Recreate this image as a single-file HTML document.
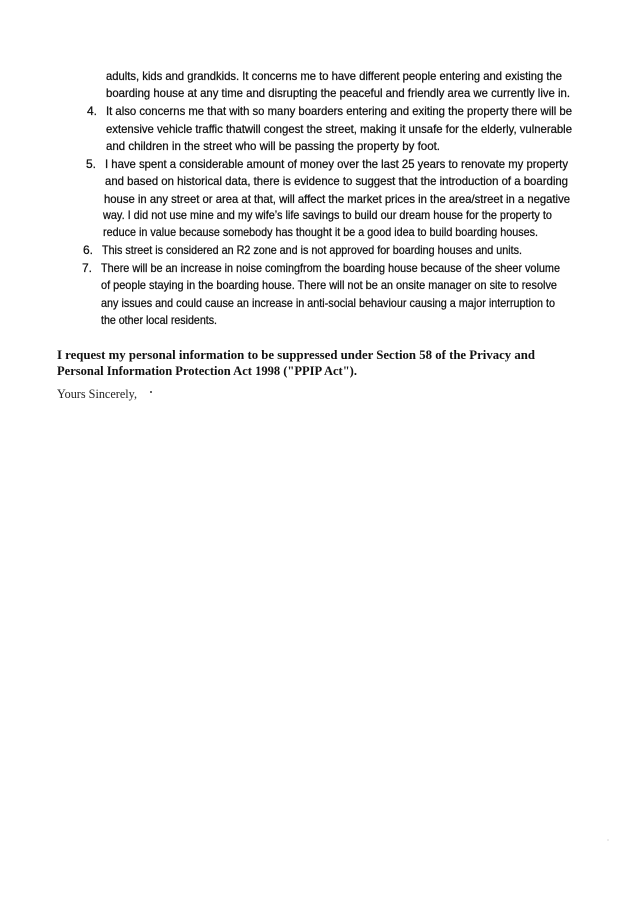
<!DOCTYPE html>
<html><head><meta charset="utf-8"><style>
html,body{margin:0;padding:0;background:#fff;width:637px;height:923px;overflow:hidden}
svg{display:block}
.s{font-family:"Liberation Sans",sans-serif;font-size:12px;fill:#111;stroke:#111;stroke-width:0.25}
.b{font-family:"Liberation Serif",serif;font-size:13px;font-weight:bold;fill:#111}
.r{font-family:"Liberation Serif",serif;font-size:13px;fill:#222}
</style></head><body>
<svg width="637" height="923" viewBox="0 0 637 923" xmlns="http://www.w3.org/2000/svg">
<rect width="637" height="923" fill="#fff"/>
<g class="s">
<text x="106" y="80" textLength="456" lengthAdjust="spacingAndGlyphs">adults, kids and grandkids. It concerns me to have different people entering and existing the</text>
<text x="106" y="97" textLength="464" lengthAdjust="spacingAndGlyphs">boarding house at any time and disrupting the peaceful and friendly area we currently live in.</text>
<text x="87" y="115">4.</text>
<text x="106" y="115" textLength="466" lengthAdjust="spacingAndGlyphs">It also concerns me that with so many boarders entering and exiting the property there will be</text>
<text x="106" y="133" textLength="466" lengthAdjust="spacingAndGlyphs">extensive vehicle traffic thatwill congest the street, making it unsafe for the elderly, vulnerable</text>
<text x="106" y="150" textLength="334" lengthAdjust="spacingAndGlyphs">and children in the street who will be passing the property by foot.</text>
<text x="86" y="168">5.</text>
<text x="105" y="168" textLength="463" lengthAdjust="spacingAndGlyphs">I have spent a considerable amount of money over the last 25 years to renovate my property</text>
<text x="105" y="185" textLength="463" lengthAdjust="spacingAndGlyphs">and based on historical data, there is evidence to suggest that the introduction of a boarding</text>
<text x="104" y="203" textLength="466" lengthAdjust="spacingAndGlyphs">house in any street or area at that, will affect the market prices in the area/street in a negative</text>
<text x="103" y="219" textLength="449" lengthAdjust="spacingAndGlyphs">way. I did not use mine and my wife’s life savings to build our dream house for the property to</text>
<text x="103" y="236" textLength="435" lengthAdjust="spacingAndGlyphs">reduce in value because somebody has thought it be a good idea to build boarding houses.</text>
<text x="83" y="254">6.</text>
<text x="102" y="254" textLength="420" lengthAdjust="spacingAndGlyphs">This street is considered an R2 zone and is not approved for boarding houses and units.</text>
<text x="82" y="272">7.</text>
<text x="101" y="272" textLength="459" lengthAdjust="spacingAndGlyphs">There will be an increase in noise comingfrom the boarding house because of the sheer volume</text>
<text x="101" y="289" textLength="456" lengthAdjust="spacingAndGlyphs">of people staying in the boarding house. There will not be an onsite manager on site to resolve</text>
<text x="101" y="307" textLength="454" lengthAdjust="spacingAndGlyphs">any issues and could cause an increase in anti-social behaviour causing a major interruption to</text>
<text x="101" y="324" textLength="116" lengthAdjust="spacingAndGlyphs">the other local residents.</text>
</g>
<text class="b" x="57" y="359" textLength="478" lengthAdjust="spacingAndGlyphs">I request my personal information to be suppressed under Section 58 of the Privacy and</text>
<text class="b" x="57" y="375" textLength="300" lengthAdjust="spacingAndGlyphs">Personal Information Protection Act 1998 ("PPIP Act").</text>
<text class="r" x="57" y="398" textLength="80" lengthAdjust="spacingAndGlyphs">Yours Sincerely,</text>
<circle cx="151" cy="392" r="1" fill="#333"/>
<circle cx="608" cy="840" r="0.6" fill="#bbb"/>
</svg>
</body></html>
